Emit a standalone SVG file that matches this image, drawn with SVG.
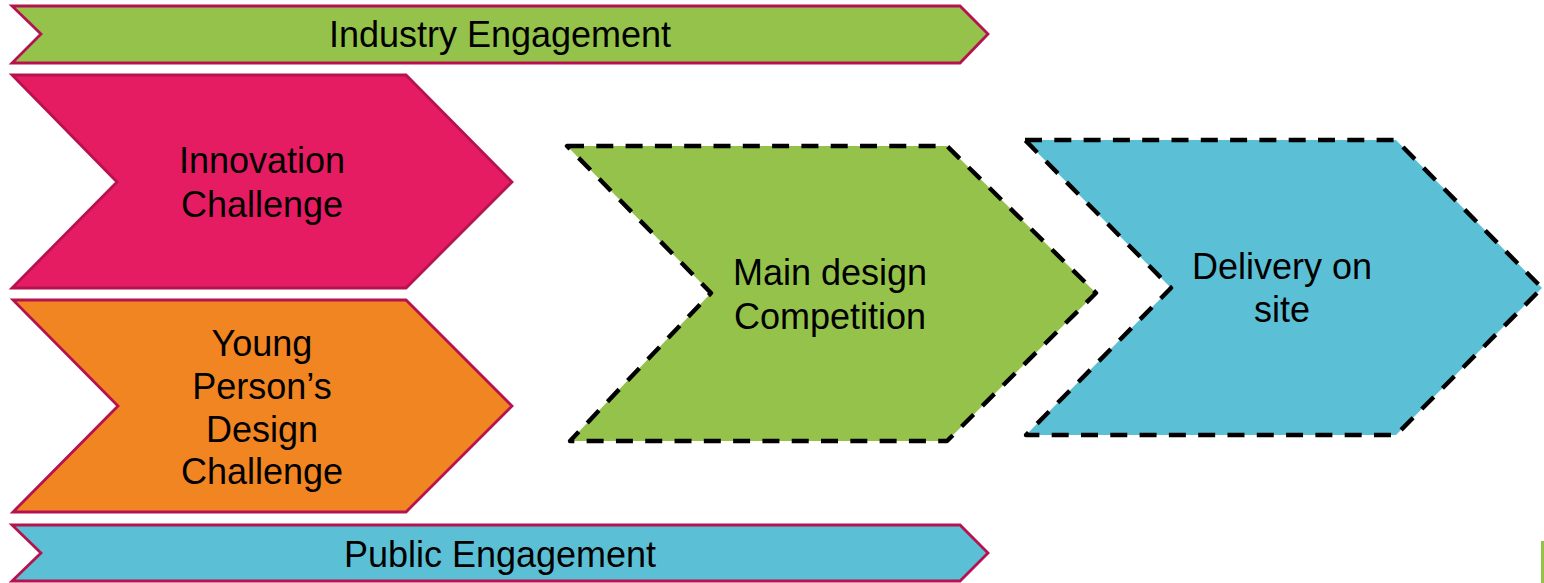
<svg xmlns="http://www.w3.org/2000/svg" width="1544" height="583" viewBox="0 0 1544 583">
<style>
text{font-family:"Liberation Sans",Arial,sans-serif;font-size:36px;fill:#000;text-anchor:middle}
.s{stroke:#b5124f;stroke-width:2.8}
.d{stroke:#000;stroke-width:4.4;stroke-dasharray:17 12.3;stroke-linejoin:round}
.g{fill:#95c24b}.b{fill:#5bc0d5}
</style>
<rect width="1544" height="583" fill="#fff"/>
<g id="industry"><polygon class="s g" points="12,6 960,6 988,34 960,63 12,63 41,34"/><text x="500" y="47">Industry Engagement</text></g>
<g id="innovation"><polygon class="s" fill="#e61c62" points="12,75 406,75 512,182 406,288 12,288 117,182"/><text x="262" y="173">Innovation</text><text x="262" y="217">Challenge</text></g>
<g id="young"><polygon class="s" fill="#f18521" points="13,300 406,300 512,406 406,512 13,512 118,406"/><text x="262" y="356">Young</text><text x="262" y="399">Person’s</text><text x="262" y="442">Design</text><text x="262" y="484">Challenge</text></g>
<g id="main"><polygon class="d g" points="567,146 947,146 1096,293 947,441 570,441 711,293"/><text x="830" y="285">Main design</text><text x="830" y="329">Competition</text></g>
<g id="delivery"><polygon class="d b" points="1025,140 1396,140 1542,288 1396,435 1026,435 1171,288"/><text x="1282" y="279">Delivery on</text><text x="1282" y="322">site</text></g>
<g id="public"><polygon class="s b" points="12,525 960,525 988,553 960,581 12,581 41,553"/><text x="500" y="567">Public Engagement</text></g>
<rect id="edge-mark" x="1541" y="541" width="3" height="42" fill="#95c24b"/>
<g id="connectors"></g>
</svg>
